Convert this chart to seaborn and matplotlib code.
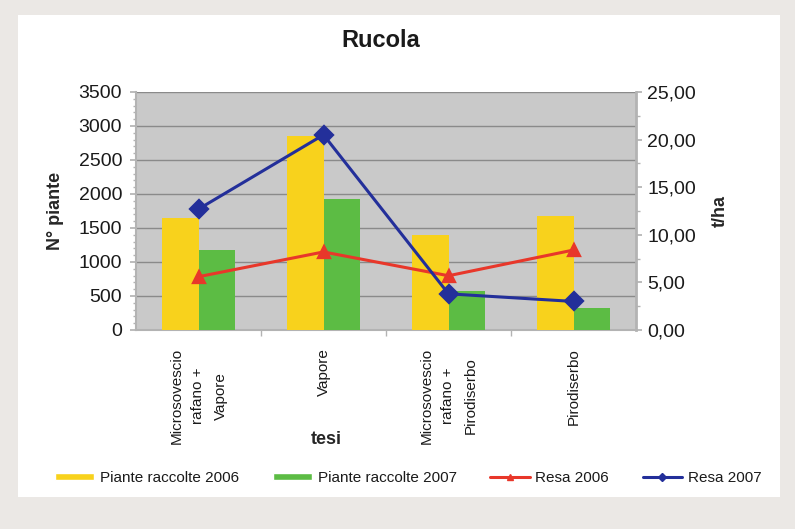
import matplotlib
matplotlib.use("Agg")
import matplotlib.pyplot as plt
from matplotlib.patches import Rectangle, Patch
from matplotlib.lines import Line2D
from matplotlib.ticker import FuncFormatter, MultipleLocator, FixedLocator
import seaborn as sns
import pandas as pd

tesi = ["Microsovescio\nrafano +\nVapore", "Vapore",
        "Microsovescio\nrafano +\nPirodiserbo", "Pirodiserbo"]
piante_2006 = [1650, 2850, 1400, 1680]
piante_2007 = [1180, 1920, 580, 330]
resa_2006 = [5.6, 8.2, 5.7, 8.4]
resa_2007 = [12.7, 20.5, 3.8, 3.0]

sns.set_theme(style="white")
plt.rcParams["font.family"] = ["Liberation Sans", "DejaVu Sans"]

W, H = 795, 529
fig = plt.figure(figsize=(W / 100, H / 100), dpi=100)
fig.patch.set_facecolor("#ebe8e5")
fig.add_artist(Rectangle((18 / W, 1 - 497 / H), (780 - 18) / W, (497 - 15) / H,
                         transform=fig.transFigure, facecolor="white",
                         edgecolor="none", zorder=-5))

ax = fig.add_axes([136 / W, 1 - 330 / H, (636 - 136) / W, (330 - 92) / H])
ax.set_facecolor("#c9c9c9")

bars = pd.DataFrame({
    "tesi": tesi * 2,
    "piante": piante_2006 + piante_2007,
    "serie": ["Piante raccolte 2006"] * 4 + ["Piante raccolte 2007"] * 4,
})
sns.barplot(data=bars, x="tesi", y="piante", hue="serie",
            palette=["#f8d21c", "#5cbc44"], width=0.58, gap=0,
            saturation=1, linewidth=0, ax=ax, legend=False, zorder=3)

grey = "#b3b3b3"
ax.set_ylim(0, 3500)
ax.yaxis.set_major_locator(MultipleLocator(500))
ax.yaxis.set_minor_locator(MultipleLocator(100))
ax.xaxis.set_minor_locator(FixedLocator([0.5, 1.5, 2.5]))
ax.grid(axis="y", which="major", color="#8a8a8a", linewidth=1.0, zorder=0)
ax.set_axisbelow(True)
ax.tick_params(axis="y", which="major", length=4, color=grey, labelsize=14,
               pad=6, left=True, labelcolor="#1a1a1a")
ax.tick_params(axis="y", which="minor", length=2, color=grey, left=True)
ax.tick_params(axis="x", which="major", length=0, labelsize=11, pad=13, rotation=90,
               labelcolor="#1a1a1a")
ax.tick_params(axis="x", which="minor", length=4, color=grey, bottom=True)
for lab in ax.get_xticklabels():
    lab.set_verticalalignment("top")
    lab.set_multialignment("center")
    lab.set_linespacing(1.75)
for side, s in ax.spines.items():
    s.set_visible(side in ("left", "bottom"))
    s.set_color(grey)
    s.set_linewidth(1.5)
ax.set_ylabel("N° piante", fontsize=13, fontweight="bold")
ax.yaxis.set_label_coords((55 - 136) / 500, 0.5)
ax.yaxis.label.set_verticalalignment("center")
ax.set_xlabel("tesi", fontsize=13, fontweight="bold")
ax.xaxis.set_label_coords((326 - 136) / 500, -(440 - 330) / 238)
ax.xaxis.label.set_verticalalignment("center")
fig.text(381 / W, 1 - 40 / H, "Rucola", fontsize=17, fontweight="bold",
         ha="center", va="center", color="#1a1a1a")

ax2 = ax.twinx()
lines = pd.DataFrame({"tesi": tesi, "r06": resa_2006, "r07": resa_2007})
sns.pointplot(data=lines, x="tesi", y="r06", color="#e8372a", markers="^",
              markersize=9, linewidth=2.2, ax=ax2, errorbar=None)
sns.pointplot(data=lines, x="tesi", y="r07", color="#232f9a", markers="D",
              markersize=9, linewidth=2.2, ax=ax2, errorbar=None)
ax2.set_ylim(0, 25)
ax2.yaxis.set_major_locator(MultipleLocator(5))
ax2.yaxis.set_minor_locator(MultipleLocator(2.5))
ax2.yaxis.set_major_formatter(FuncFormatter(lambda v, p: f"{v:.2f}".replace(".", ",")))
ax2.tick_params(axis="y", which="major", length=4, color=grey, labelsize=14,
                pad=4, right=True, labelcolor="#1a1a1a")
ax2.tick_params(axis="y", which="minor", length=3, color=grey, right=True)
for side, s in ax2.spines.items():
    s.set_visible(side == "right")
    s.set_color(grey)
    s.set_linewidth(2)
ax2.set_ylabel("t/ha", fontsize=13, fontweight="bold", rotation=90)
ax2.yaxis.set_label_coords((720 - 136) / 500, 0.5)
ax2.yaxis.label.set_verticalalignment("center")
ax2.set_xlabel("")
ax.set_xlim(-0.5, 3.5)

handles = [
    Patch(facecolor="#f8d21c", label="Piante raccolte 2006"),
    Patch(facecolor="#5cbc44", label="Piante raccolte 2007"),
    Line2D([], [], color="#e8372a", marker="^", markersize=5, linewidth=2.2, label="Resa 2006"),
    Line2D([], [], color="#232f9a", marker="D", markersize=4, linewidth=2.2, label="Resa 2007"),
]
leg = fig.legend(handles=handles, loc="center", bbox_to_anchor=(408 / W, 1 - 478 / H),
                 ncol=4, frameon=False, fontsize=11, handlelength=2.6, handleheight=0.4,
                 columnspacing=2.2, handletextpad=0.35)
for t in leg.get_texts():
    t.set_color("#1a1a1a")

fig.savefig("out.png", dpi=100, facecolor=fig.get_facecolor())
